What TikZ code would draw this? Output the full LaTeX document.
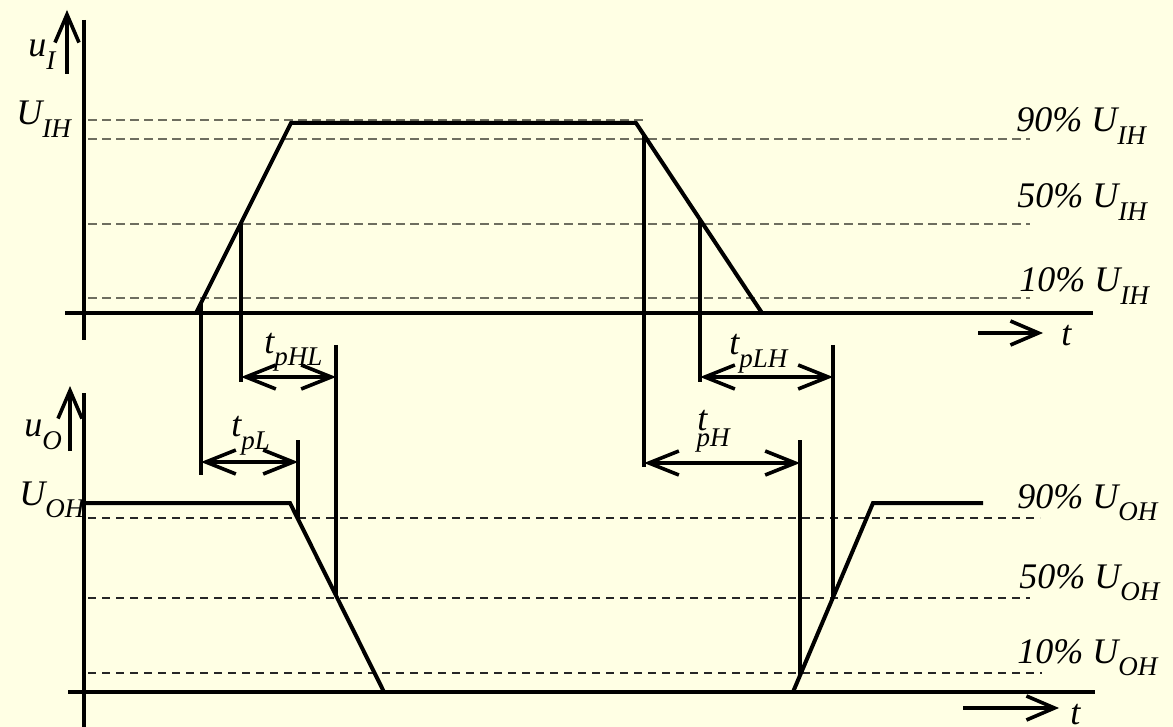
\documentclass[tikz,border=0pt]{standalone}
\usepackage{fontspec}
\setmainfont{Liberation Serif}
\usetikzlibrary{arrows.meta}
\definecolor{fondo}{RGB}{255,255,228}
\definecolor{guia}{RGB}{110,110,95}
\newcommand{\sbs}[1]{\raisebox{-0.35em}{\fontsize{13.5}{15}\selectfont #1}}
\tikzset{
  senal/.style={black, line width=2pt},
  marca/.style={black, line width=1.8pt},
  guiaI/.style={guia, line width=1pt, dash pattern=on 4.5pt off 2.5pt},
  guiaO/.style={black!85, line width=0.7pt, dash pattern=on 4pt off 3pt},
  rotulo/.style={font=\fontsize{18}{21}\selectfont\itshape, inner sep=0pt, anchor=base west},
  cota/.style={marca, {Straight Barb[length=15pt,width=12pt]}-{Straight Barb[length=15pt,width=12pt]}},
  eje/.style={marca, -{Straight Barb[length=14pt,width=12pt]}},
}

\begin{document}
\begin{tikzpicture}[x=0.5pt, y=-0.5pt]
    % Fondo
    \fill[fondo] (0,0) rectangle (1173,727);
    \useasboundingbox (0,0) rectangle (1173,727);

    % Guias entrada
    \draw[guiaI] (88,120) -- (648,120);
    \draw[guiaI] (88,139) -- (1030,139);
    \draw[guiaI] (88,224) -- (1030,224);
    \draw[guiaI] (88,298) -- (1030,298);
    % Guias salida
    \draw[guiaO] (88,518) -- (1040,518);
    \draw[guiaO] (88,598) -- (1030,598);
    \draw[guiaO] (88,673) -- (1042,673);

    % Ejes
    \draw[marca] (84,20) -- (84,340);
    \draw[senal] (65,313) -- (1093,313);
    \draw[marca] (84,393) -- (84,727);
    \draw[senal] (68,692) -- (1095,692);
    \coordinate (uIa) at (67,74);
    \coordinate (uIb) at (67,10);
    \draw[eje] (uIa) -- (uIb);
    \coordinate (uOa) at (70,451);
    \coordinate (uOb) at (70,386);
    \draw[eje] (uOa) -- (uOb);
    \coordinate (tIa) at (978,333);
    \coordinate (tIb) at (1043,333);
    \draw[eje] (tIa) -- (tIb);
    \coordinate (tOa) at (963,708);
    \coordinate (tOb) at (1059,708);
    \draw[eje] (tOa) -- (tOb);

    % Senal de entrada
    \coordinate (iB) at (196,313);
    \coordinate (iC) at (291,123);
    \coordinate (iD) at (636,123);
    \coordinate (iE) at (762,313);
    \draw[senal, line join=miter] (iB) -- (iC) -- (iD) -- (iE);
    % Senal de salida
    \coordinate (oA) at (84,503);
    \coordinate (oB) at (290,503);
    \coordinate (oC) at (384,692);
    \coordinate (oD) at (793,692);
    \coordinate (oE) at (873,503);
    \coordinate (oF) at (983,503);
    \draw[senal, line join=miter] (oA) -- (oB) -- (oC);
    \draw[senal, line join=miter] (oD) -- (oE) -- (oF);

    % Marcas verticales
    \coordinate (m1) at (201,303);
    \coordinate (m2) at (241,223);
    \coordinate (m3) at (644,135);
    \coordinate (m4) at (700,220);
    \coordinate (n1) at (298,519);
    \coordinate (n2) at (336,596);
    \coordinate (n3) at (800,675);
    \coordinate (n4) at (833,597);
    \draw[marca] (m1) -- (201,475);
    \draw[marca] (m2) -- (241,382);
    \draw[marca] (m3) -- (644,467);
    \draw[marca] (m4) -- (700,382);
    \draw[marca] (298,440) -- (n1);
    \draw[marca] (336,345) -- (n2);
    \draw[marca] (800,440) -- (n3);
    \draw[marca] (833,345) -- (n4);

    % Cotas
    \coordinate (pHLa) at (241,377);
    \coordinate (pHLb) at (336,377);
    \coordinate (pLa) at (201,462);
    \coordinate (pLb) at (298,462);
    \coordinate (pLHa) at (700,377);
    \coordinate (pLHb) at (833,377);
    \coordinate (pHa) at (644,463);
    \coordinate (pHb) at (800,463);
    \draw[cota] (pHLa) -- (pHLb);
    \draw[cota] (pLa) -- (pLb);
    \draw[cota] (pLHa) -- (pLHb);
    \draw[cota] (pHa) -- (pHb);

    % Rotulos
    \node[rotulo] (uI) at (28,57) {u\sbs{I}};
    \node[rotulo] (UIH) at (16,125) {U\sbs{IH}};
    \node[rotulo] (uO) at (24,437) {u\sbs{O}};
    \node[rotulo] (UOH) at (19,505) {U\sbs{OH}};
    \node[rotulo] (tpHL) at (264,353) {t\sbs{pHL}};
    \node[rotulo] (tpL) at (231,437) {t\sbs{pL}};
    \node[rotulo] (tpLH) at (729,355) {t\sbs{pLH}};
    \node[rotulo] (tpH) at (697,430) {t\kern-0.3em\raisebox{-0.45em}{\fontsize{13.5}{15}\selectfont pH}};
    \node[rotulo] (tI) at (1061,345) {t};
    \node[rotulo] (tO) at (1070,724) {t};
    \node[rotulo] (I90) at (1016,132) {90\% U\sbs{IH}};
    \node[rotulo] (I50) at (1017,208) {50\% U\sbs{IH}};
    \node[rotulo] (I10) at (1019,292) {10\% U\sbs{IH}};
    \node[rotulo] (O90) at (1017,508) {90\% U\sbs{OH}};
    \node[rotulo] (O50) at (1019,588) {50\% U\sbs{OH}};
    \node[rotulo] (O10) at (1017,663) {10\% U\sbs{OH}};
\end{tikzpicture}
\end{document}
